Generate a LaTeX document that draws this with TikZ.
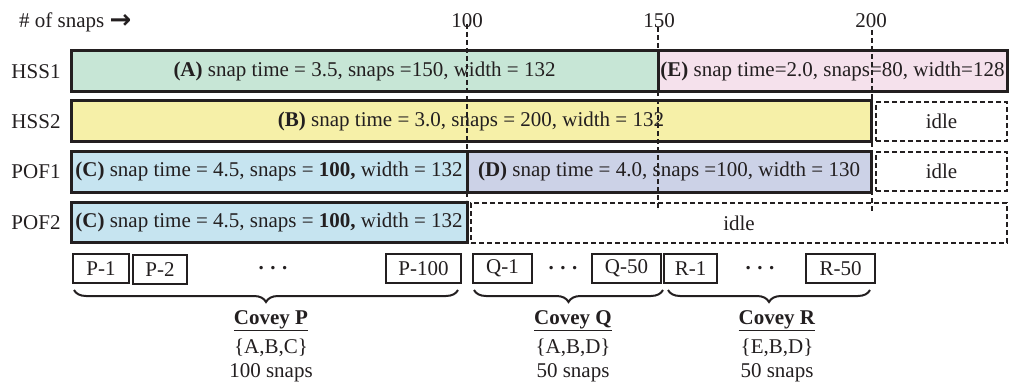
\documentclass[tikz,border=0pt]{standalone}
\usepackage{fontspec}
\setmainfont{Liberation Serif}
\newfontfamily\arrowfont{DejaVu Sans}
\usetikzlibrary{decorations.pathreplacing}
\definecolor{ink}{HTML}{231F20}
\definecolor{cA}{HTML}{C7E6D6}
\definecolor{cE}{HTML}{F5E1EC}
\definecolor{cB}{HTML}{F6F0A8}
\definecolor{cC}{HTML}{C6E4F0}
\definecolor{cD}{HTML}{CCD2E7}
\begin{document}
\begin{tikzpicture}[x=1pt,y=-1pt,
  every node/.style={font=\fontsize{21}{25}\selectfont, text=ink},
  bar/.style={draw=ink, line width=3pt, inner sep=0pt, outer sep=0pt, anchor=north west},
  idlebox/.style={draw=ink, line width=2pt, dash pattern=on 5pt off 3pt, inner sep=0pt, outer sep=0pt, anchor=north west},
  snapbox/.style={draw=ink, line width=2pt, inner sep=0pt, outer sep=0pt, anchor=north west, minimum height=29pt},
  rowlabel/.style={anchor=center, inner sep=0pt},
  vline/.style={draw=ink, line width=2pt, dash pattern=on 5pt off 3pt},
  bracestyle/.style={draw=ink, line width=2pt, decorate, decoration={brace, mirror, amplitude=12pt}},
  plain/.style={inner sep=0pt}
]
\useasboundingbox (0,0) rectangle (1011,385);

% header
\node[plain, anchor=west] (head) at (19,22) {\# of snaps {\arrowfont\bfseries\fontsize{26}{28}\selectfont\raisebox{-1pt}{→}}};
\node[plain] (t100) at (467,21) {100};
\node[plain] (t150) at (659,21) {150};
\node[plain] (t200) at (871,21) {200};

% row labels
\node[rowlabel] (lHSS1) at (36,72) {HSS1};
\node[rowlabel] (lHSS2) at (36,122) {HSS2};
\node[rowlabel] (lPOF1) at (36,172) {POF1};
\node[rowlabel] (lPOF2) at (36,223) {POF2};

% HSS1
\node[bar, fill=cA, minimum width=587pt, minimum height=41pt] (A) at (71,51)
  {\textbf{(A)} snap time = 3.5, snaps =150, width = 132};
\node[bar, fill=cE, minimum width=349pt, minimum height=41pt] (E) at (658,51)
  {\textbf{(E)} snap time=2.0, snaps=80, width=128};
% HSS2
\node[bar, fill=cB, minimum width=800pt, minimum height=40pt] (B) at (71,101)
  {\textbf{(B)} snap time = 3.0, snaps = 200, width = 132};
\node[idlebox, minimum width=131pt, minimum height=39pt] (idle1) at (876,102) {idle};
% POF1
\node[bar, fill=cC, minimum width=396pt, minimum height=41pt] (C1) at (71,151)
  {\textbf{(C)} snap time = 4.5, snaps = \textbf{100,} width = 132};
\node[bar, fill=cD, minimum width=404pt, minimum height=41pt] (D) at (467,151)
  {\textbf{(D)} snap time = 4.0, snaps =100, width = 130};
\node[idlebox, minimum width=131pt, minimum height=39pt] (idle2) at (876,152) {idle};
% POF2
\node[bar, fill=cC, minimum width=396pt, minimum height=40pt] (C2) at (71,202)
  {\textbf{(C)} snap time = 4.5, snaps = \textbf{100,} width = 132};
\node[idlebox, minimum width=536pt, minimum height=40pt] (idle3) at (471,203) {idle};

% vertical dashed markers
\coordinate (v100a) at (467,24);
\coordinate (v100b) at (467,200);
\coordinate (v150a) at (658,27);
\coordinate (v150b) at (658,208);
\coordinate (v200a) at (872,30);
\coordinate (v200b) at (872,212);
\draw[vline] (v100a) -- (v100b);
\draw[vline] (v150a) -- (v150b);
\draw[vline] (v200a) -- (v200b);

% snap boxes
\node[snapbox, minimum width=56pt] (P1) at (73,254) {P-1};
\node[snapbox, minimum width=54pt] (P2) at (133,255) {P-2};
\node[plain] (dotsP) at (273,268) {\textbf{.\hspace{6.5pt}.\hspace{6.5pt}.}};
\node[snapbox, minimum width=75pt] (P100) at (386,254) {P-100};
\node[snapbox, minimum width=59pt] (Q1) at (473,254) {Q-1};
\node[plain] (dotsQ) at (563,268) {\textbf{.\hspace{6.5pt}.\hspace{6.5pt}.}};
\node[snapbox, minimum width=69pt] (Q50) at (592,254) {Q-50};
\node[snapbox, minimum width=53pt] (R1) at (664,254) {R-1};
\node[plain] (dotsR) at (760,268) {\textbf{.\hspace{6.5pt}.\hspace{6.5pt}.}};
\node[snapbox, minimum width=69pt] (R50) at (806,254) {R-50};

% braces
\draw[bracestyle] ([xshift=1pt,yshift=-7pt]P1.south west) -- ([xshift=-3pt,yshift=-7pt]P100.south east);
\draw[bracestyle] ([xshift=1pt,yshift=-7pt]Q1.south west) -- ([xshift=2pt,yshift=-7pt]Q50.south east);
\draw[bracestyle] ([xshift=4pt,yshift=-7pt]R1.south west) -- ([xshift=-5pt,yshift=-7pt]R50.south east);

% covey labels
\node[plain] (covP) at (271,321) {\underline{\textbf{Covey P}}};
\node[plain] (setP) at (271,348) {\{A,B,C\}};
\node[plain] (numP) at (271,373) {100 snaps};
\node[plain] (covQ) at (573,321) {\underline{\textbf{Covey Q}}};
\node[plain] (setQ) at (573,348) {\{A,B,D\}};
\node[plain] (numQ) at (573,373) {50 snaps};
\node[plain] (covR) at (777,321) {\underline{\textbf{Covey R}}};
\node[plain] (setR) at (777,348) {\{E,B,D\}};
\node[plain] (numR) at (777,373) {50 snaps};
\end{tikzpicture}
\end{document}
